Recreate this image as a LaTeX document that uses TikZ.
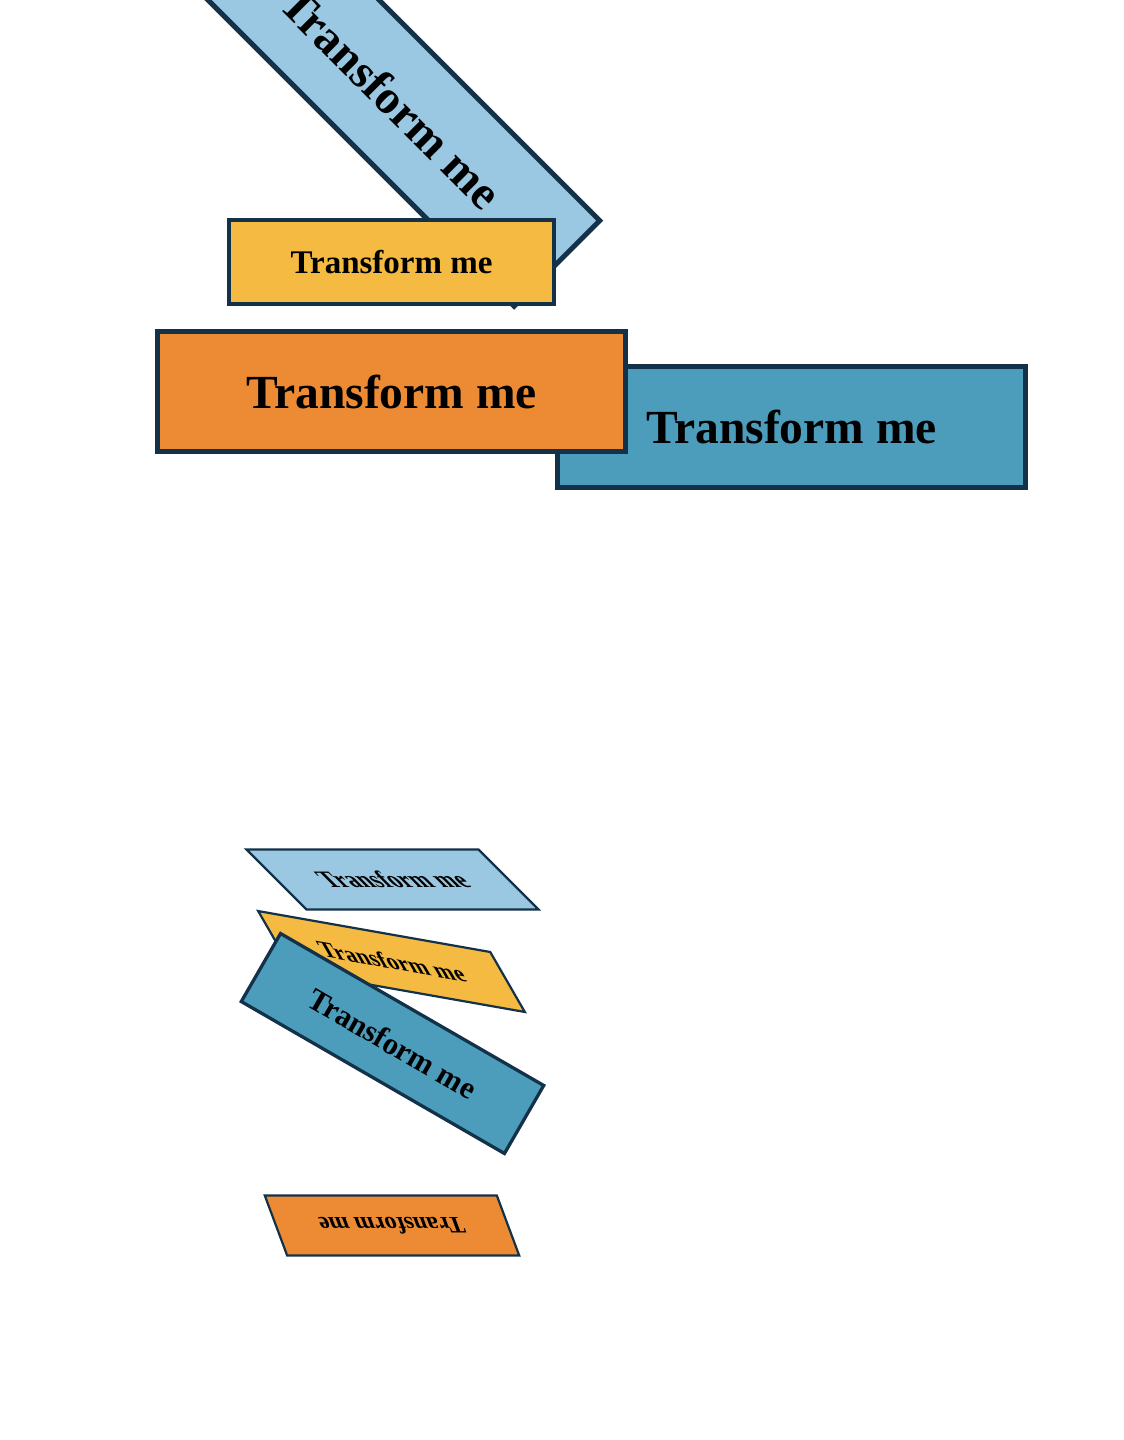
\documentclass[tikz,border=0pt]{standalone}
\usepackage{fontspec}
\setmainfont{Liberation Serif}
\definecolor{edge}{RGB}{19,50,73}
\definecolor{skyblue}{RGB}{154,200,226}
\definecolor{mustard}{RGB}{244,186,65}
\definecolor{tangerine}{RGB}{236,139,52}
\definecolor{steel}{RGB}{76,157,188}
\tikzset{
  tbox/.style={draw=edge, line width=1.75pt, minimum width=162.5pt,
    minimum height=42pt, inner sep=0pt, transform shape,
    font=\bfseries\fontsize{16.5}{20}\selectfont},
}

\begin{document}
\begin{tikzpicture}[x=0.5pt,y=0.5pt]
  \useasboundingbox (0,0) rectangle (1124,-1440);
  % top group: rotated, plain, moved, grown
  \node[tbox, fill=skyblue, line width=2.5pt, rotate=-45, scale=1.44] (turned) at (391.5,-98) {Transform me};
  \node[tbox, fill=mustard] (plain) at (391.5,-262) {Transform me};
  \node[tbox, fill=steel, line width=2.5pt, scale=1.44] (moved) at (791.5,-427) {Transform me};
  \node[tbox, fill=tangerine, line width=2.5pt, scale=1.44] (grown) at (391.5,-391.5) {Transform me};
  % bottom group: skewed shapes
  \node[tbox, fill=skyblue, line width=1.1pt, xslant=-1, scale=0.714] (slanted) at (392.5,-879.5) {Transform me};
  \node[tbox, fill=mustard, line width=1.1pt, cm={0.714,-0.126,-0.412,0.714,(0,0)}] (sheared) at (391.5,-961.5) {Transform me};
  \node[tbox, fill=steel, line width=1.65pt, rotate=-30, scale=0.935] (tilted) at (392.5,-1043.5) {Transform me};
  \node[tbox, fill=tangerine, line width=1.1pt, rotate=180, xslant=-0.373, scale=0.714] (flipped) at (392,-1225.5) {Transform me};
\end{tikzpicture}
\end{document}
